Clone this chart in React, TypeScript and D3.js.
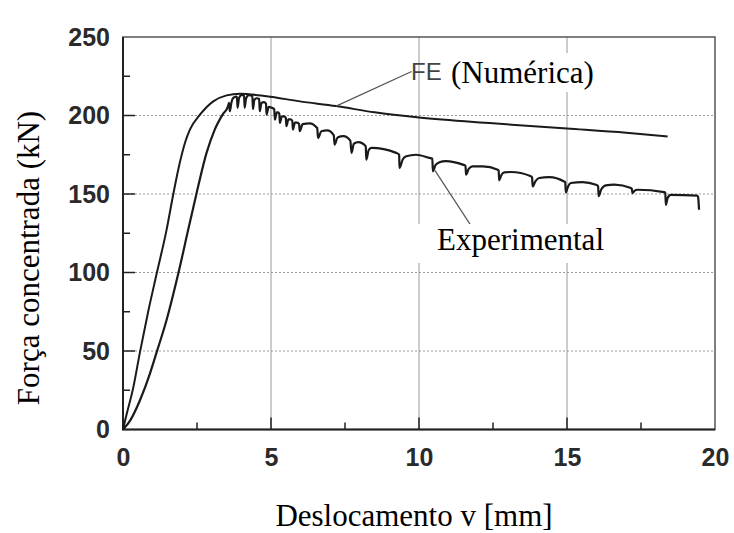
import * as d3 from 'd3'
import React, { useEffect, useRef } from 'react'

const WIDTH = 734
const HEIGHT = 533

// FE (numérica) curve, displacement [mm] / force [kN]
const feDisp = [0, 0.1, 0.35, 0.57, 0.85, 1.14, 1.47, 1.7, 1.92, 2.1, 2.26, 2.6, 3.05, 3.5, 3.95, 4.85, 5.97, 7.2, 8.5, 10, 12.5, 15, 17, 18.4]
const feForce = [0, 8, 27, 49, 75, 99.5, 127, 150, 170, 183, 191, 200.5, 209, 212.8, 213.9, 212.3, 209, 206, 202, 198.7, 195, 191.7, 189, 186.6]

// experimental curve: loading branch
const expRise: [number, number][] = [
  [0, 0], [0.24, 5.7], [0.57, 18.5], [0.91, 35.6], [1.14, 49.4], [1.47, 69.6], [1.87, 99.5],
  [2.2, 127], [2.48, 150], [2.82, 176], [3.1, 191], [3.38, 201], [3.55, 206]
]

// experimental curve: serrated peak
const expPeak: [number, number][] = [
  [3.58, 208], [3.61, 202.7], [3.66, 208], [3.74, 211.5],
  [3.85, 212], [3.87, 205], [3.92, 211], [4.0, 213],
  [4.09, 213], [4.11, 205], [4.16, 211], [4.25, 213],
  [4.37, 212.5], [4.39, 204], [4.44, 210], [4.52, 211],
  [4.6, 210.5], [4.62, 202.7], [4.68, 208], [4.76, 208.5],
  [4.83, 207.5], [4.85, 200.6], [4.92, 205.5], [5.02, 205],
  [5.11, 204], [5.13, 197.4], [5.2, 202], [5.24, 202],
  [5.28, 201], [5.3, 195.3], [5.37, 199.5], [5.44, 199.5],
  [5.5, 198.5], [5.52, 193.2], [5.59, 197.5], [5.66, 197.5],
  [5.72, 196.5], [5.74, 191], [5.81, 195.5], [5.88, 195.5]
]

// experimental curve: softening branch with load drops
const expSoft: [number, number][] = [
  [5.95, 194.5], [5.97, 190], [6.07, 194.5], [6.3, 195],
  [6.56, 192], [6.59, 185.7], [6.7, 190], [6.9, 190.5],
  [7.12, 187.5], [7.15, 181.5], [7.25, 186], [7.45, 186.8],
  [7.68, 184], [7.72, 176.2], [7.8, 182], [7.95, 183],
  [8.2, 180.4], [8.22, 171.9], [8.3, 178], [8.39, 179.4],
  [9.23, 176.2], [9.33, 175], [9.34, 166.6], [9.45, 172], [9.57, 174], [9.9, 175],
  [10.35, 173], [10.45, 172.5], [10.47, 164.4], [10.56, 168.5], [10.69, 170.2], [10.9, 171],
  [11.48, 168.7], [11.57, 168], [11.59, 162.3], [11.68, 166], [11.81, 167.6], [12.15, 167.6],
  [12.66, 165.5], [12.69, 165], [12.71, 158.7], [12.78, 162], [12.88, 163.8], [13.1, 164],
  [13.78, 161.3], [13.82, 160.5], [13.84, 154.8], [13.93, 158], [14.06, 160.2], [14.4, 160.8],
  [14.9, 158], [14.94, 157.5], [14.96, 151], [15.04, 155], [15.13, 157], [15.52, 157.6],
  [15.98, 155.9], [16.05, 155], [16.07, 148.6], [16.16, 153], [16.31, 155.5], [16.6, 156],
  [17.16, 153.8], [17.19, 153.2], [17.21, 150.6], [17.28, 152], [17.38, 152.7],
  [18.28, 151.2], [18.32, 150.8], [18.34, 143.1], [18.4, 147.5], [18.5, 149.5],
  [19.4, 149], [19.43, 148], [19.46, 140]
]

const xTicks = [0, 5, 10, 15, 20]
const xMinor = [2.5, 7.5, 12.5, 17.5]
const yTicks = [0, 50, 100, 150, 200, 250]
const yMinor = [25, 75, 125, 175, 225]

// leader lines: [disp, force] on the curve -> label end
const feLeader: [number, number][] = [[7.2, 206], [9.75, 228]]
const expLeader: [number, number][] = [[10.52, 165.5], [11.75, 130]]

export default function App() {
  const sandbox = useRef<SVGSVGElement>(null)

  useEffect(() => {
    const svg = d3.select(sandbox.current)
    svg.selectAll('*').remove()

    const x = d3.scaleLinear().domain([0, 20]).range([123, 715])
    const y = d3.scaleLinear().domain([0, 250]).range([429.5, 37])
    const sans = 'Liberation Sans, Arial, sans-serif'
    const serif = 'Liberation Serif, Times New Roman, serif'

    svg.append('rect').attr('width', WIDTH).attr('height', HEIGHT).attr('fill', '#fff')

    //grid
    svg
      .selectAll('.vgrid')
      .data([5, 10, 15])
      .enter()
      .append('line')
      .attr('x1', (d) => x(d))
      .attr('x2', (d) => x(d))
      .attr('y1', y(250))
      .attr('y2', y(0))
      .attr('stroke', '#9a9a9a')
      .attr('stroke-width', 1)

    svg
      .selectAll('.hgrid')
      .data([50, 100, 150, 200])
      .enter()
      .append('line')
      .attr('x1', x(0))
      .attr('x2', x(20))
      .attr('y1', (d) => y(d))
      .attr('y2', (d) => y(d))
      .attr('stroke', '#999')
      .attr('stroke-width', 1)
      .attr('stroke-dasharray', '2,2')

    //frame
    svg
      .append('rect')
      .attr('x', x(0))
      .attr('y', y(250))
      .attr('width', x(20) - x(0))
      .attr('height', y(0) - y(250))
      .attr('fill', 'none')
      .attr('stroke', '#555')
      .attr('stroke-width', 1.5)
    svg
      .append('path')
      .attr('d', `M${x(0)},${y(250)}V${y(0)}H${x(20)}`)
      .attr('fill', 'none')
      .attr('stroke', '#222')
      .attr('stroke-width', 2)

    //ticks
    svg
      .selectAll('.xt')
      .data([...xTicks.slice(1, -1), ...xMinor])
      .enter()
      .append('line')
      .attr('x1', (d) => x(d))
      .attr('x2', (d) => x(d))
      .attr('y1', y(0))
      .attr('y2', (d) => y(0) - (xMinor.includes(d) ? 7 : 12))
      .attr('stroke', '#222')
      .attr('stroke-width', 1.5)
    svg
      .selectAll('.yt')
      .data([...yTicks.slice(1, -1), ...yMinor])
      .enter()
      .append('line')
      .attr('x1', x(0))
      .attr('x2', (d) => x(0) + (yMinor.includes(d) ? 7 : 12))
      .attr('y1', (d) => y(d))
      .attr('y2', (d) => y(d))
      .attr('stroke', '#222')
      .attr('stroke-width', 1.5)

    //tick labels
    const xAxis = svg
      .append('g')
      .attr('transform', `translate(0,${y(0)})`)
      .call(d3.axisBottom(x).tickValues(xTicks).tickSize(0).tickPadding(19))
    const yAxis = svg
      .append('g')
      .attr('transform', `translate(${x(0)},0)`)
      .call(d3.axisLeft(y).tickValues(yTicks).tickSize(0).tickPadding(13))
    for (const g of [xAxis, yAxis]) {
      g.select('.domain').remove()
      g.selectAll('text')
        .attr('font-family', sans)
        .attr('font-size', 25)
        .attr('font-weight', 'bold')
        .attr('fill', '#2a2a2a')
    }

    //curves
    const line = d3
      .line<[number, number]>()
      .x((d) => x(d[0]))
      .y((d) => y(d[1]))
      .curve(d3.curveMonotoneX)

    const fe = feDisp.map((d, i) => [d, feForce[i]] as [number, number])
    svg
      .append('path')
      .attr('d', line(fe))
      .attr('fill', 'none')
      .attr('stroke', '#1a1a1a')
      .attr('stroke-width', 2)

    svg
      .append('path')
      .attr('d', line([...expRise, ...expPeak, ...expSoft]))
      .attr('fill', 'none')
      .attr('stroke', '#1a1a1a')
      .attr('stroke-width', 2.2)
      .attr('stroke-linejoin', 'round')

    //leaders
    for (const l of [feLeader, expLeader]) {
      svg
        .append('line')
        .attr('x1', x(l[0][0]))
        .attr('y1', y(l[0][1]))
        .attr('x2', x(l[1][0]))
        .attr('y2', y(l[1][1]))
        .attr('stroke', '#555')
        .attr('stroke-width', 1.2)
    }

    //labels
    svg.append('rect').attr('x', 447).attr('y', 53).attr('width', 160).attr('height', 39).attr('fill', '#fff')
    svg
      .append('text')
      .attr('x', 411)
      .attr('y', 80)
      .attr('font-family', sans)
      .attr('font-size', 24)
      .attr('fill', '#444')
      .text('FE')
    svg
      .append('text')
      .attr('x', 451)
      .attr('y', 83)
      .attr('font-family', serif)
      .attr('font-size', 31)
      .attr('fill', '#000')
      .text('(Numérica)')

    svg.append('rect').attr('x', 418).attr('y', 224).attr('width', 205).attr('height', 39).attr('fill', '#fff')
    svg
      .append('text')
      .attr('x', 437)
      .attr('y', 250)
      .attr('font-family', serif)
      .attr('font-size', 31)
      .attr('fill', '#000')
      .text('Experimental')

    svg
      .append('text')
      .attr('x', 414)
      .attr('y', 526)
      .attr('text-anchor', 'middle')
      .attr('font-family', serif)
      .attr('font-size', 31)
      .attr('fill', '#000')
      .text('Deslocamento v [mm]')

    svg
      .append('text')
      .attr('transform', 'translate(39,258) rotate(-90)')
      .attr('text-anchor', 'middle')
      .attr('font-family', serif)
      .attr('font-size', 31)
      .attr('fill', '#000')
      .text('Força concentrada (kN)')
  }, [sandbox])

  return (
    <svg
      ref={sandbox}
      width={WIDTH}
      height={HEIGHT}
      style={{ position: 'absolute', left: 0, top: 0, display: 'block' }}
    />
  )
}
